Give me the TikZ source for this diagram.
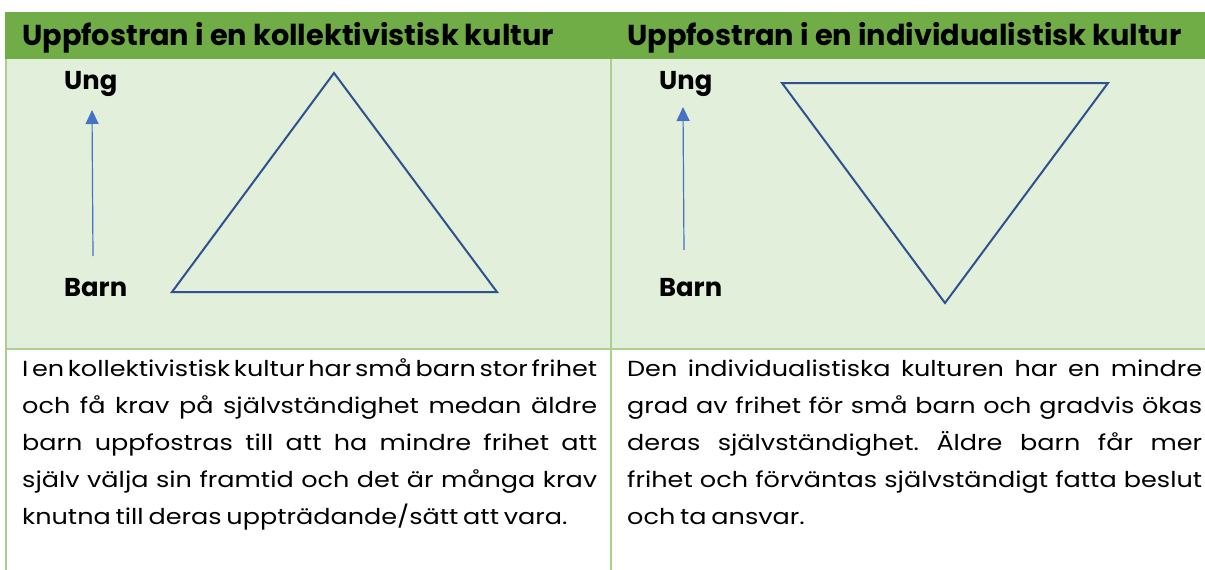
\documentclass[tikz,border=0pt]{standalone}
\usepackage{fontspec}
\setmainfont{Poppins}
\newfontfamily\bodyfont{Poppins}[FakeStretch=1.17]
\usetikzlibrary{arrows.meta}
\definecolor{hdr}{HTML}{70AD47}
\definecolor{cellbg}{HTML}{E2EFDA}
\definecolor{gridc}{HTML}{A9D08E}
\definecolor{tri}{HTML}{2F528F}
\definecolor{arr}{HTML}{4472C4}
\newcommand{\bodysetup}{\bodyfont\fontsize{21.8}{37}\selectfont\frenchspacing\hyphenpenalty=10000\exhyphenpenalty=10000\spaceskip=0.22em plus 1.5em minus 0.08em\relax}
\begin{document}
\begin{tikzpicture}[x=1pt,y=-1pt,
  gridline/.style={draw=gridc,line width=2pt},
  hdrtext/.style={anchor=base west,inner sep=0pt,font=\fontsize{28.8}{32}\bfseries\selectfont},
  agelabel/.style={anchor=base west,inner sep=0pt,font=\fontsize{25.8}{30}\bfseries\selectfont},
  bodytext/.style={anchor=base west,inner sep=0pt,text width=575pt,align=justify,font=\bodysetup},
  triline/.style={draw=tri,line width=2pt,line join=miter},
  agearrow/.style={draw=arr,line width=1.2pt,-{Triangle[width=13pt,length=14pt]}}]
\useasboundingbox (0,0) rectangle (1205,570);
\fill[white] (0,0) rectangle (1205,570);
\fill[hdr] (5,12) rectangle (1205,59);
\fill[cellbg] (5,59) rectangle (1205,348);
\draw[gridline] (6,59) -- (6,570);
\draw[gridline] (610.5,59) -- (610.5,570);
\draw[gridline] (5,349) -- (1205,349);
% headers
\node[hdrtext] (h1) at (22,45) {Uppfostran i en kollektivistisk kultur};
\node[hdrtext] (h2) at (627,45) {Uppfostran i en individualistisk kultur};
% left cell
\node[agelabel] (ung1) at (64,89) {Ung};
\node[agelabel] (barn1) at (64,296) {Barn};
\coordinate (a1s) at (93,256);
\coordinate (a1e) at (92,110);
\draw[agearrow] (a1s) -- (a1e);
\coordinate (t1a) at (334,73);
\coordinate (t1b) at (172,292);
\coordinate (t1c) at (497,292);
\draw[triline] (t1a) -- (t1b) -- (t1c) -- cycle;
% right cell
\node[agelabel] (ung2) at (659,89) {Ung};
\node[agelabel] (barn2) at (659,296) {Barn};
\coordinate (a2s) at (684,250);
\coordinate (a2e) at (683,107);
\draw[agearrow] (a2s) -- (a2e);
\coordinate (t2a) at (782,83);
\coordinate (t2b) at (1108,83);
\coordinate (t2c) at (945,303);
\draw[triline] (t2a) -- (t2b) -- (t2c) -- cycle;
% body texts
\node[bodytext] (p1) at (22,376) {I en kollektivistisk kultur har små barn stor frihet\linebreak och få krav på självständighet medan äldre\linebreak barn uppfostras till att ha mindre frihet att\linebreak själv välja sin framtid och det är många krav\linebreak knutna till deras uppträdande/sätt att vara.};
\node[bodytext] (p2) at (627,376) {Den individualistiska kulturen har en mindre\linebreak grad av frihet för små barn och gradvis ökas\linebreak deras självständighet. Äldre barn får mer\linebreak frihet och förväntas självständigt fatta beslut\linebreak och ta ansvar.};
\end{tikzpicture}
\end{document}
